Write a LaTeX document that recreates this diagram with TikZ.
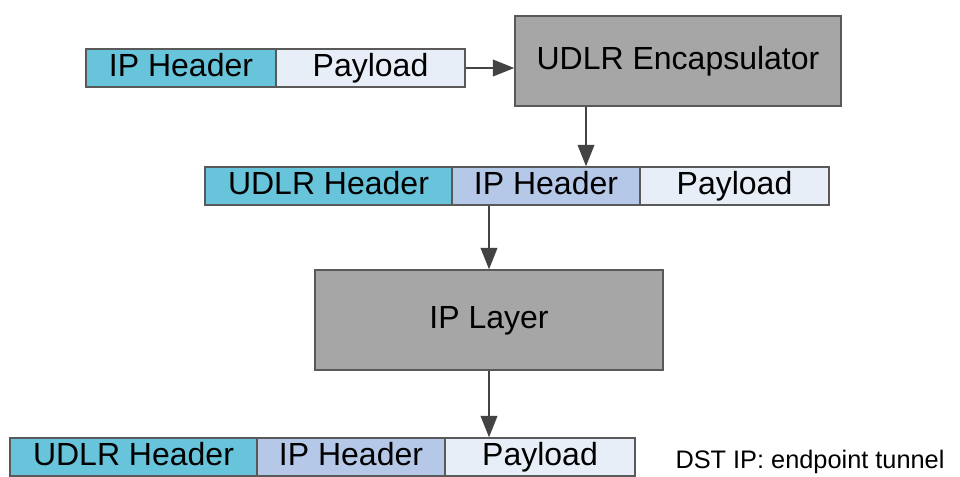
\documentclass[tikz,border=0pt]{standalone}
\usepackage{fontspec}
\setmainfont{Liberation Sans}
\usetikzlibrary{arrows.meta}
\definecolor{hdrA}{RGB}{103,196,218}
\definecolor{hdrB}{RGB}{181,200,232}
\definecolor{pay}{RGB}{232,238,248}
\definecolor{boxg}{RGB}{166,166,166}
\definecolor{edge}{RGB}{89,89,89}
\definecolor{arrc}{RGB}{67,67,67}
\tikzset{
  cell/.style={draw=edge, line width=1.1pt, inner sep=0pt, minimum height={38*0.75pt},
    text height=17.2pt, text depth=4pt,
    font=\fontsize{24}{28}\selectfont, text=black},
  proc/.style={draw=edge, line width=1.1pt, fill=boxg, inner sep=0pt,
    text height=17.2pt, text depth=4pt,
    font=\fontsize{24}{28}\selectfont, text=black},
  arr/.style={draw=arrc, line width=1.1pt, -{Triangle[length=16pt,width=12.5pt]}},
}
\begin{document}
\begin{tikzpicture}[x=0.75pt,y=-0.75pt]
\useasboundingbox (0,0) rectangle (960,476);
% top packet
\node[cell, fill=hdrA, minimum width={190*0.75pt}] (iph1) at (181,68) {IP Header};
\node[cell, fill=pay, minimum width={189*0.75pt}] (pay1) at (370.5,68) {Payload};
% encapsulator
\node[proc, minimum width={326*0.75pt}, minimum height={90*0.75pt}] (enc) at (678,61) {UDLR Encapsulator};
% middle packet
\node[cell, fill=hdrA, minimum width={247*0.75pt}] (udm) at (328.5,186) {UDLR Header};
\node[cell, fill=hdrB, minimum width={188*0.75pt}] (ipm) at (546,186) {IP Header};
\node[cell, fill=pay, minimum width={189*0.75pt}] (paym) at (734.5,186) {Payload};
% IP layer
\node[proc, minimum width={348*0.75pt}, minimum height={100*0.75pt}] (ipl) at (489,320) {IP Layer};
% bottom packet
\node[cell, fill=hdrA, minimum width={247*0.75pt}] (udb) at (133.5,457) {UDLR Header};
\node[cell, fill=hdrB, minimum width={188*0.75pt}] (ipb) at (351,457) {IP Header};
\node[cell, fill=pay, minimum width={190*0.75pt}] (payb) at (540,457) {Payload};
% note
\node[inner sep=0pt, font=\fontsize{19}{22}\selectfont] (note) at (810,462) {DST IP: endpoint tunnel};
% arrows
\draw[arr] (pay1.east) -- (pay1.east -| enc.west);
\coordinate (c2) at (586,0);
\draw[arr] (enc.south -| c2) -- (ipm.north -| c2);
\draw[arr] (ipm.south -| ipl.north) -- (ipl.north);
\draw[arr] (ipl.south) -- (ipl.south |- payb.north);
\end{tikzpicture}
\end{document}
